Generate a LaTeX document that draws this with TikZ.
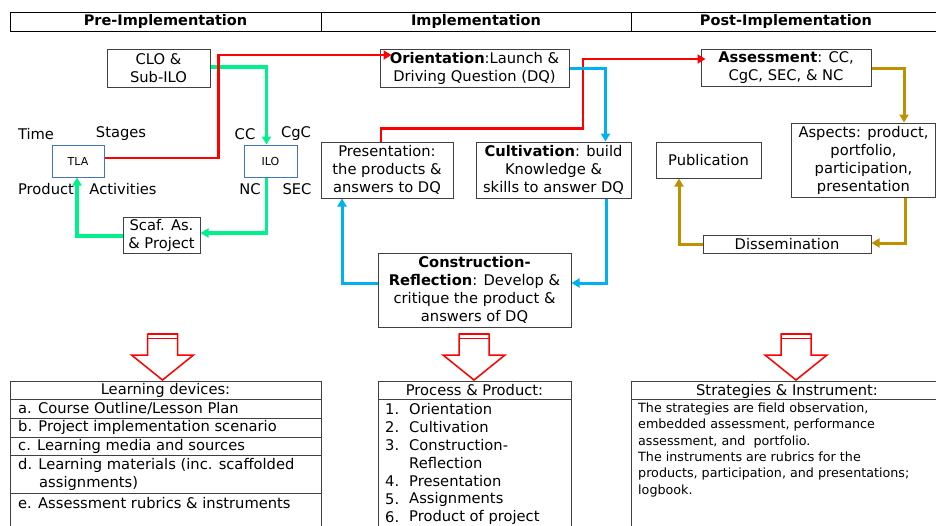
\documentclass[tikz,border=0pt]{standalone}
\usepackage{fontspec}
\setmainfont{DejaVu Sans}
\usetikzlibrary{arrows.meta}
\definecolor{flowred}{RGB}{255,0,0}
\definecolor{flowgreen}{RGB}{0,240,140}
\definecolor{flowblue}{RGB}{0,176,240}
\definecolor{flowgold}{RGB}{191,144,0}
\definecolor{boxgray}{RGB}{64,64,64}
\definecolor{boxblue}{RGB}{68,114,196}
\newcommand\bodyfont{\fontsize{14.7}{18}\selectfont}
\newcommand\smallbody{\fontsize{12.7}{16.4}\selectfont}
\newcommand\headfont{\fontsize{14.5}{18}\selectfont\bfseries}

\begin{document}
\begin{tikzpicture}[x=1pt,y=-1pt,
	box/.style={draw=boxgray,line width=1pt,align=center,inner sep=0pt,font=\bodyfont},
	tbox/.style={draw=boxblue,line width=1pt,inner sep=0pt,minimum width=52,minimum height=32,font=\fontsize{11}{13}\selectfont},
	lbl/.style={inner sep=0pt,font=\bodyfont},
	hdr/.style={draw=black,line width=1pt,inner sep=0pt,minimum height=19,font=\headfont},
	item/.style={anchor=west,inner sep=0pt,font=\bodyfont,align=left},
	flow/.style={line width=3pt,-{Triangle[length=8pt,width=9pt]}}]
				\useasboundingbox (0,0) rectangle (936,525);
				
				\node[hdr,minimum width=311] (hpre) at (165.5,21.5) {Pre-Implementation};
				\node[hdr,minimum width=310] (himp) at (476,21.5) {Implementation};
				\node[hdr,minimum width=310] (hpost) at (786,21.5) {Post-Implementation};
				
				\node[box,minimum width=103,minimum height=38] (clo) at (158.5,68) {CLO \&\\Sub-ILO};
				\node[tbox] (tla) at (78,161) {TLA};
				\node[tbox,minimum width=53] (ilo) at (270.5,161) {ILO};
				\node[box,minimum width=77,minimum height=36] (scaf) at (161.5,235) {Scaf. As.\\\& Project};
				\node[lbl] (ltime) at (36,134) {Time};
				\node[lbl] (lstage) at (121,134) {Stages};
				\node[lbl] (lprod) at (46,189) {Product};
				\node[lbl] (lact) at (123,189) {Activities};
				\node[lbl] (lcc) at (245,134) {CC};
				\node[lbl] (lcgc) at (296,134) {CgC};
				\node[lbl] (lnc) at (250,189) {NC};
				\node[lbl] (lsec) at (297,189) {SEC};
				
				\node[box,minimum width=189,minimum height=38] (orient) at (474.5,68) {\textbf{Orientation}:Launch \&\\Driving Question (DQ)};
				\node[box,minimum width=132,minimum height=56] (pres) at (387,170) {Presentation:\\the products \&\\answers to DQ};
				\node[box,minimum width=155,minimum height=56] (cult) at (553.5,170) {\textbf{Cultivation}: build\\Knowledge \&\\skills to answer DQ};
				\node[box,minimum width=193,minimum height=74] (conref) at (474.5,290) {\textbf{Construction-}\\\textbf{Reflection}: Develop \&\\critique the product \&\\answers of DQ};
				
				\node[box,minimum width=170,minimum height=37] (assess) at (786,67.5) {\textbf{Assessment}: CC,\\CgC, SEC, \& NC};
				\node[box,minimum width=144,minimum height=74] (aspects) at (863.5,160) {Aspects: product,\\portfolio,\\participation,\\presentation};
				\node[box,minimum width=105,minimum height=36] (pub) at (708.5,160) {Publication};
				\node[box,minimum width=168,minimum height=18] (dissem) at (787,244) {Dissemination};
				
				\draw[flow,flowgreen,line width=3.5pt] ([yshift=1pt]clo.east) -| ([xshift=-4pt]ilo.north);
				\draw[flow,flowgreen,line width=3.5pt] ([xshift=-4pt]ilo.south) |- ([yshift=2pt]scaf.east);
				\draw[flow,flowgreen,line width=3.5pt] ([yshift=-1pt]scaf.west) -| ([xshift=-1pt]tla.south);
				\draw[flow,flowred,line width=2.5pt,shorten >=-12pt] ([yshift=3pt]tla.east) -- ++(114,0) |- ([yshift=13pt]orient.west);
				\draw[flow,flowred,line width=2.5pt,shorten >=-5pt] ([xshift=-6pt]pres.north) -- ++(0,-13) -- ++(202,0) |- ([yshift=8.5pt]assess.west);
				\draw[flow,flowblue] (orient.east) -| ([xshift=-26pt]cult.north east);
				\draw[flow,flowblue] ([xshift=-25pt]cult.south east) |- ([yshift=7pt]conref.east);
				\draw[flow,flowblue] ([yshift=7pt]conref.west) -| ([xshift=-45pt]pres.south);
				\draw[flow,flowgold] ([yshift=-0.5pt]assess.east) -| ([xshift=40.5pt]aspects.north);
				\draw[flow,flowgold] ([xshift=41.5pt]aspects.south) |- ([yshift=1pt]dissem.east);
				\draw[flow,flowgold] (dissem.west) -| ([xshift=-29.5pt]pub.south);
				
				\foreach \cx in {162.5,474,796} {
					\draw[flowred,line width=1.5pt,fill=white] (\cx-15,334) -- (\cx+15,334) -- (\cx+15,355) -- (\cx+31,355) -- (\cx,380) -- (\cx-31,355) -- (\cx-15,355) -- cycle;
					\draw[flowred,line width=2.5pt] (\cx-15,334) -- (\cx+15,334);
					\draw[flowred,line width=1pt] (\cx-15,338.5) -- (\cx+15,338.5);
				}
				
				\draw[boxgray,line width=1pt] (10,381) rectangle (321,530);
				\foreach \ry in {399,418,437,455,493}
					\draw[boxgray,line width=1pt] (10,\ry) -- (321,\ry);
				\node[lbl] (ldtitle) at (165.5,390) {Learning devices:};
				\node[item] (lda) at (18,408.5) {a. Course Outline/Lesson Plan};
				\node[item] (ldb) at (18,427.5) {b. Project implementation scenario};
				\node[item] (ldc) at (18,446) {c. Learning media and sources};
				\node[item] (ldd) at (18,474) {d. Learning materials (inc. scaffolded\\\hspace*{21pt}assignments)};
				\node[item] (lde) at (18,503) {e. Assessment rubrics \& instruments};
				
				\draw[boxgray,line width=1pt] (378,381) rectangle (571,530);
				\draw[boxgray,line width=1pt] (378,399) -- (571,399);
				\node[lbl] (pptitle) at (474.5,390) {Process \& Product:};
				\foreach \i/\n/\t in {0/1./Orientation,1/2./Cultivation,2/3./Construction-,3//Reflection,4/4./Presentation,5/5./Assignments,6/6./Product of project} {
					\node[item] (ppn\i) at (385,409+18*\i) {\n};
					\node[item] (ppt\i) at (409,409+18*\i) {\t};
				}
				
				\draw[boxgray,line width=1pt] (631,381) rectangle (940,530);
				\draw[boxgray,line width=1pt] (631,399) -- (940,399);
				\node[lbl] (sititle) at (787,391) {Strategies \& Instrument:};
				\node[inner sep=0pt,anchor=north west,align=left,font=\smallbody] (sitext) at (638,402.5) {The strategies are field observation,\\embedded assessment, performance\\assessment, and\ \ portfolio.\\The instruments are rubrics for the\\products, participation, and presentations;\\logbook.};
			\end{tikzpicture}
\end{document}
